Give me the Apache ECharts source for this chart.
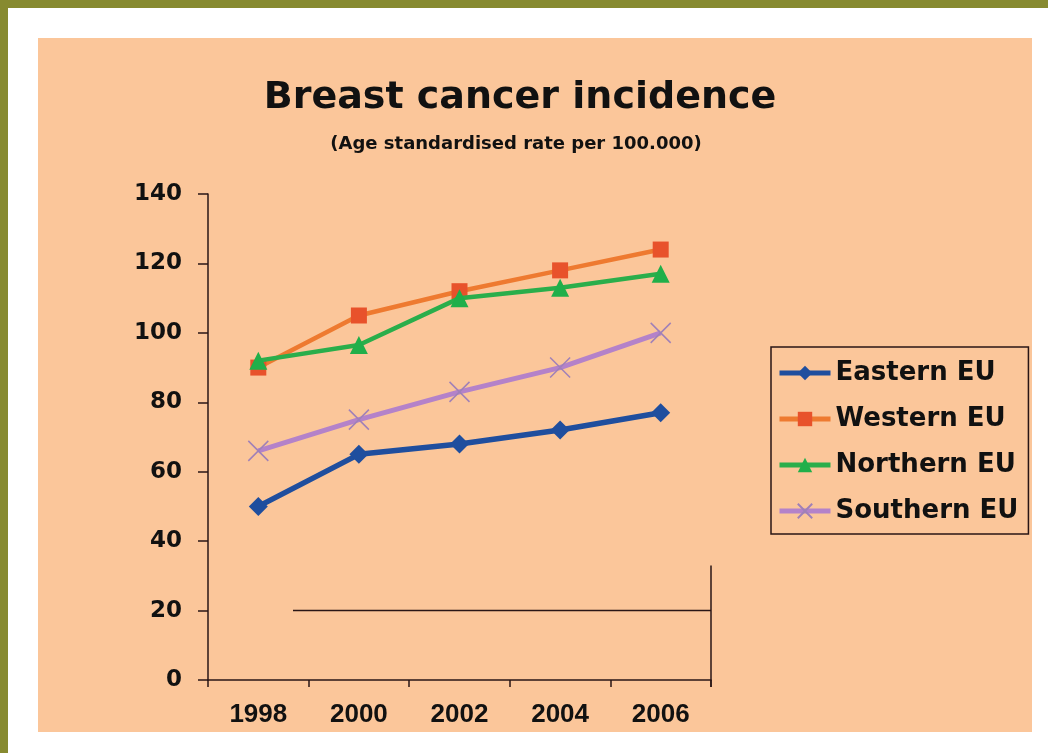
<!DOCTYPE html>
<html>
<head>
<meta charset="utf-8">
<script src="https://cdn.jsdelivr.net/npm/echarts@6/dist/echarts.min.js"></script>
<style>
  html, body { margin: 0; padding: 0; background: #ffffff; }
  #wrap { position: relative; width: 1048px; height: 753px; overflow: hidden; background: #ffffff; }
  #olTop { position: absolute; left: 0; top: 0; width: 1048px; height: 8px; background: #878A30; }
  #olLeft { position: absolute; left: 0; top: 0; width: 8px; height: 753px; background: #878A30; }
  #panel { position: absolute; left: 38px; top: 38px; width: 994px; height: 694px; background: #FBC69A; }
  #chart { position: absolute; left: 0; top: 0; width: 1048px; height: 753px; }
</style>
</head>
<body>
<div id="wrap">
  <div id="olTop"></div>
  <div id="olLeft"></div>
  <div id="panel"></div>
  <div id="chart"></div>
</div>
<script>
const titleText = 'Breast cancer incidence';
const subtitleText = '(Age standardised rate per 100.000)';
const years = ['1998', '2000', '2002', '2004', '2006'];
const seriesNames = ['Eastern EU', 'Western EU', 'Northern EU', 'Southern EU'];
const easternEU = [50, 65, 68, 72, 77];
const westernEU = [90, 105, 112, 118, 124];
const northernEU = [92, 96.5, 110, 113, 117];
const southernEU = [66, 75, 83, 90, 100];
const yTicks = [0, 20, 40, 60, 80, 100, 120, 140];
const decorLineValue = 20;
const decorVerticalTop = 33;

const dark = '#2a1616';
const chart = echarts.init(document.getElementById('chart'), null, { renderer: 'canvas' });

const GRID_LEFT = 208, GRID_RIGHT = 337, GRID_TOP = 194, GRID_BOTTOM = 73;

const option = {
  backgroundColor: 'transparent',
  animation: false,
  title: [
    {
      text: titleText,
      left: 515, top: 74,
      textAlign: 'center',
      textStyle: { fontFamily: 'DejaVu Sans', fontWeight: 'bold', fontSize: 38, color: '#111' }
    },
    {
      text: subtitleText,
      left: 511, top: 130,
      textAlign: 'center',
      textStyle: { fontFamily: 'DejaVu Sans', fontWeight: 'bold', fontSize: 18, color: '#111' }
    }
  ],
  legend: {
    orient: 'vertical',
    left: 771, top: 347,
    padding: [11, 10, 8, 6],
    itemGap: 16,
    itemWidth: 51,
    itemHeight: 18,
    borderColor: dark,
    borderWidth: 1.5,
    data: seriesNames,
    lineStyle: { width: 5 },
    textStyle: { fontFamily: 'DejaVu Sans', fontWeight: 'bold', fontSize: 26, color: '#111', lineHeight: 30 }
  },
  grid: { left: GRID_LEFT, right: GRID_RIGHT, top: GRID_TOP, bottom: GRID_BOTTOM, containLabel: false },
  xAxis: {
    type: 'category',
    data: years,
    boundaryGap: true,
    axisLine: { show: true, lineStyle: { color: dark, width: 1.5 } },
    axisTick: { show: true, length: 7, lineStyle: { color: dark, width: 1.5 } },
    axisLabel: {
      margin: 22,
      fontFamily: "'Liberation Sans Narrow', 'Liberation Sans', Arial",
      fontWeight: 'bold', fontSize: 26, color: '#111'
    },
    splitLine: { show: false }
  },
  yAxis: {
    type: 'value',
    min: yTicks[0], max: yTicks[yTicks.length - 1], interval: yTicks[1] - yTicks[0],
    axisLine: { show: true, lineStyle: { color: dark, width: 1.5 } },
    axisTick: { show: true, length: 10, lineStyle: { color: dark, width: 1.5 } },
    axisLabel: { margin: 26, fontFamily: 'DejaVu Sans', fontWeight: 'bold', fontSize: 23, color: '#111' },
    splitLine: { show: false }
  },
  series: [
    {
      name: seriesNames[0], type: 'line', data: easternEU,
      symbol: 'diamond', symbolSize: 19,
      lineStyle: { color: '#1F4E9E', width: 5.5 },
      itemStyle: { color: '#1F4E9E' }, z: 5
    },
    {
      name: seriesNames[1], type: 'line', data: westernEU,
      symbol: 'rect', symbolSize: 16,
      lineStyle: { color: '#EE7A30', width: 4.5 },
      itemStyle: { color: '#E8522B' }, z: 4
    },
    {
      name: seriesNames[2], type: 'line', data: northernEU,
      symbol: 'triangle', symbolSize: 18,
      lineStyle: { color: '#2AAE4B', width: 4.5 },
      itemStyle: { color: '#20AF4A' }, z: 6
    },
    {
      name: seriesNames[3], type: 'line', data: southernEU,
      symbol: 'path://M0,0L16,16M16,0L0,16', symbolSize: 20,
      lineStyle: { color: '#B482C9', width: 5 },
      itemStyle: { color: 'rgba(0,0,0,0)', borderColor: '#A080B8', borderWidth: 1.5 }, z: 3
    }
  ]
};
chart.setOption(option);

// decorative stray lines present in the original graphic
const yLine = chart.convertToPixel({ yAxisIndex: 0 }, decorLineValue);
const yTopV = chart.convertToPixel({ yAxisIndex: 0 }, decorVerticalTop);
const yZero = chart.convertToPixel({ yAxisIndex: 0 }, 0);
const xRight = 1048 - GRID_RIGHT;
const xStart = GRID_LEFT + 85;
chart.setOption({
  graphic: [
    { type: 'line', silent: true, z: 1, shape: { x1: xStart, y1: yLine, x2: xRight, y2: yLine }, style: { stroke: dark, lineWidth: 1.5 } },
    { type: 'line', silent: true, z: 1, shape: { x1: xRight, y1: yTopV, x2: xRight, y2: yZero + 7 }, style: { stroke: dark, lineWidth: 1.5 } }
  ]
});
</script>
</body>
</html>
